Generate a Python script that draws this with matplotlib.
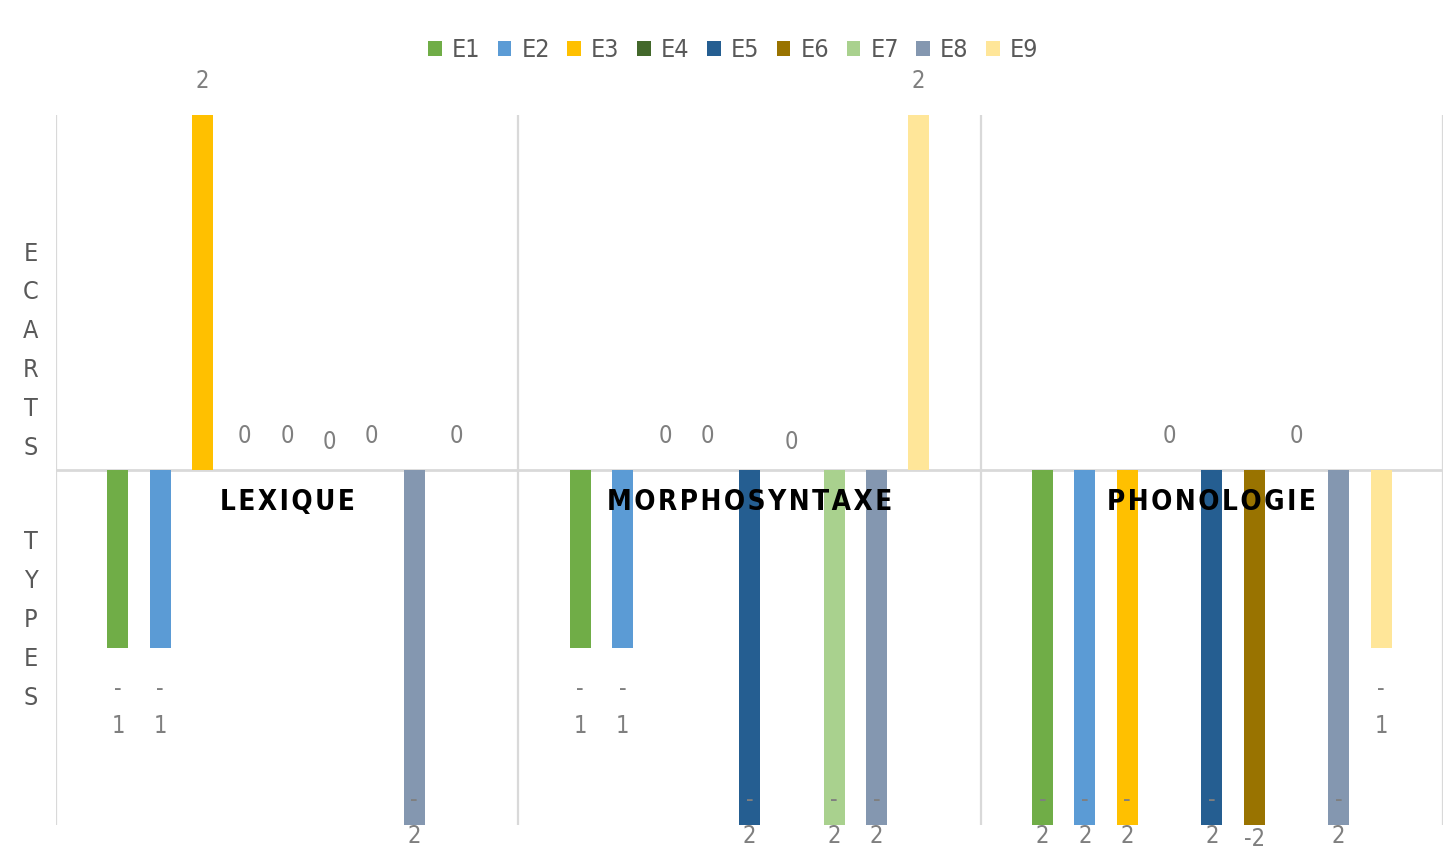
import numpy as np
import matplotlib.pyplot as plt
from matplotlib.patches import Patch

categories = ['LEXIQUE', 'MORPHOSYNTAXE', 'PHONOLOGIE']
series = ['E1', 'E2', 'E3', 'E4', 'E5', 'E6', 'E7', 'E8', 'E9']
colors = ['#70ad47', '#5b9bd5', '#ffc000', '#43682b', '#255e91',
          '#997300', '#a9d18e', '#8497b0', '#ffe699']

# écarts types, one row per élève, columns = LEXIQUE, MORPHOSYNTAXE, PHONOLOGIE
ecarts = np.array([
    [-1, -1, -2],   # E1
    [-1, -1, -2],   # E2
    [ 2,  0, -2],   # E3
    [ 0,  0,  0],   # E4
    [ 0, -2, -2],   # E5
    [ 0,  0, -2],   # E6
    [ 0, -2,  0],   # E7
    [-2, -2, -2],   # E8
    [ 0,  2, -1],   # E9
])

NARROW = dict(family='DejaVu Sans', stretch='condensed')
GRID = '#d9d9d9'

W, H, DPI = 1447, 847, 100
fig = plt.figure(figsize=(W / DPI, H / DPI), dpi=DPI)
ax = fig.add_axes([56 / W, 1 - 825 / H, (1443 - 56) / W, (825 - 115) / H])

slot = 0.0915
bw = 0.0455
x = np.arange(len(categories))
for j, name in enumerate(series):
    ax.bar(x + (j - 4) * slot, ecarts[j], width=bw, color=colors[j],
           linewidth=0, zorder=3)

ax.set_xlim(-0.5, 2.5)
ax.set_ylim(-2, 2)
ax.axhline(0, color=GRID, lw=2, zorder=1)
for b in [-0.5, 0.5, 1.5, 2.5]:
    ax.axvline(b, color=GRID, lw=1.6, zorder=1)
for s in ax.spines.values():
    s.set_visible(False)
ax.set_xticks([])
ax.set_yticks([])

# data labels, Excel style: negatives wrapped on two lines, kept inside the chart
for j in range(len(series)):
    for i in range(len(categories)):
        v = ecarts[j, i]
        xb = i + (j - 4) * slot
        end = ax.transData.transform((0, v))[1]
        if series[j] == 'E6':
            txt = f'{v}'
            yc = end + 28 if v >= 0 else end - 14
            ls = 1.2
        elif v >= 0:
            txt = f'{v}'
            yc = end + 34
            ls = 1.2
        else:
            txt = f'-\n{abs(v)}'
            yc = max(end - 60, 29)
            ls = 1.65
        ax.annotate(txt, xy=(xb, yc), xycoords=('data', 'figure pixels'),
                    ha='center', va='center', fontsize=17, color='#7f7f7f',
                    linespacing=ls, zorder=5, annotation_clip=False, **NARROW)

# category names written just under the zero line
for i, cat in enumerate(categories):
    ax.annotate('\u200a'.join(cat), xy=(i, 0), xytext=(0, -32),
                textcoords='offset pixels', ha='center', va='center',
                fontsize=20, fontweight='bold', color='black',
                family='DejaVu Sans', stretch='condensed', zorder=6)

# stacked-letter axis title
for word, yc in [('ECARTS', 350.5), ('TYPES', 620)]:
    n = len(word)
    for k, ch in enumerate(word):
        yy = yc + (k - (n - 1) / 2) * 38.8
        fig.text(31 / W, 1 - yy / H, ch, ha='center', va='center',
                 fontsize=18, color='#595959', **NARROW)

handles = [Patch(facecolor=c, edgecolor='none') for c in colors]
fig.legend(handles, series, loc='center', bbox_to_anchor=(733 / W, 1 - 50 / H),
           ncol=9, frameon=False, handlelength=0.55,
           handleheight=0.55, handletextpad=0.4, columnspacing=0.7,
           labelcolor='#595959',
           prop={'family': 'DejaVu Sans', 'stretch': 'condensed', 'size': 18})

fig.savefig('out.png', dpi=DPI)
